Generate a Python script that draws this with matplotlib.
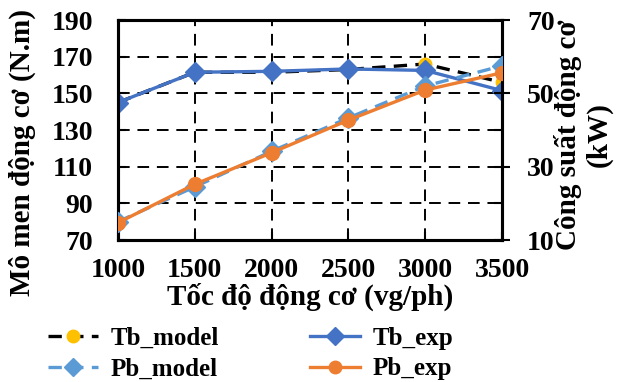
import numpy as np
import matplotlib.pyplot as plt
from matplotlib.lines import Line2D

plt.rcParams['font.family'] = ['Liberation Serif', 'DejaVu Serif']
plt.rcParams['font.weight'] = 'bold'

speed = [1000, 1500, 2000, 2500, 3000, 3500]
tb_model = [145, 161.5, 161.5, 163, 166, 156]
tb_exp = [145, 161.5, 162, 163.3, 162.5, 151.5]
pb_model = [15, 24.5, 34.2, 43.3, 52, 57.5]
pb_exp = [14.7, 25.2, 33.8, 42.7, 50.9, 55.6]

c_tbexp = '#4472C4'
c_pbmod = '#5B9BD5'
c_pbexp = '#ED7D31'
c_gold = '#FFC000'
dash = (0, (4, 2.5))

fig = plt.figure(figsize=(6.21, 3.82), dpi=100)
ax = fig.add_axes([118 / 621, 1 - 240 / 382, 384 / 621, 220 / 382])
ax2 = ax.twinx()

ax.plot(speed, tb_model, color='black', ls=dash, lw=2.4,
        marker='o', ms=9, mfc=c_gold, mec=c_gold, zorder=3)
ax.plot(speed, tb_exp, color=c_tbexp, lw=2.4,
        marker='D', ms=10, mfc=c_tbexp, mec=c_tbexp, zorder=4)
ax2.plot(speed, pb_model, color=c_pbmod, ls=dash, lw=2.4,
         marker='D', ms=10, mfc=c_pbmod, mec=c_pbmod, zorder=3)
ax2.plot(speed, pb_exp, color=c_pbexp, lw=2.4,
         marker='o', ms=10, mfc=c_pbexp, mec=c_pbexp, zorder=4)

ax.set_xlim(1000, 3500)
ax.set_ylim(70, 190)
ax.set_yticks(np.arange(70, 191, 20))
ax.set_xticks(speed)
ax2.set_ylim(10, 70)
ax2.set_yticks([10, 30, 50, 70])
ax2.set_yticks([20, 40, 60], minor=True)

ax.grid(True, color='black', ls=(0, (6, 4)), lw=1.4)
ax.set_axisbelow(True)
for a in (ax, ax2):
    for s in a.spines.values():
        s.set_linewidth(2.2)
ax.tick_params(labelsize=20, width=1.5, length=6, direction='in')
ax.tick_params(axis='y', pad=18)
ax.tick_params(axis='x', pad=13)
ax2.tick_params(labelsize=20, width=1.5, length=12, direction='inout', pad=12)
ax2.tick_params(which='minor', length=6, width=1.5, direction='in')
ax2.set_zorder(ax.get_zorder() + 1)
ax.patch.set_visible(False)

ax.set_xlabel('Tốc độ động cơ (vg/ph)', fontsize=21, fontweight='bold', labelpad=0)
ax.set_ylabel('Mô men động cơ (N.m)', fontsize=21, fontweight='bold')
ax.yaxis.set_label_coords(-0.214, 0.40)
ax2.set_ylabel('Công suất động cơ\n(kW)', fontsize=21, fontweight='bold', linespacing=1.15)
ax2.yaxis.set_label_coords(1.135, 0.48)

handles = [
    Line2D([], [], color='black', ls=dash, lw=2.4, marker='o', ms=9, mfc=c_gold, mec=c_gold),
    Line2D([], [], color=c_pbmod, ls=dash, lw=2.4, marker='D', ms=9, mfc=c_pbmod, mec=c_pbmod),
    Line2D([], [], color=c_tbexp, lw=2.4, marker='D', ms=9, mfc=c_tbexp, mec=c_tbexp),
    Line2D([], [], color=c_pbexp, lw=2.4, marker='o', ms=9, mfc=c_pbexp, mec=c_pbexp),
]
labels = ['Tb_model', 'Pb_model', 'Tb_exp', 'Pb_exp']
fig.legend(handles, labels, loc='upper left', bbox_to_anchor=(48 / 621, 1 - 327 / 382),
           ncol=2, frameon=False, fontsize=18, handlelength=2.0, columnspacing=3.65,
           handletextpad=0.5, labelspacing=0.3, borderpad=0, borderaxespad=0)

fig.savefig('out.png', dpi=100)
